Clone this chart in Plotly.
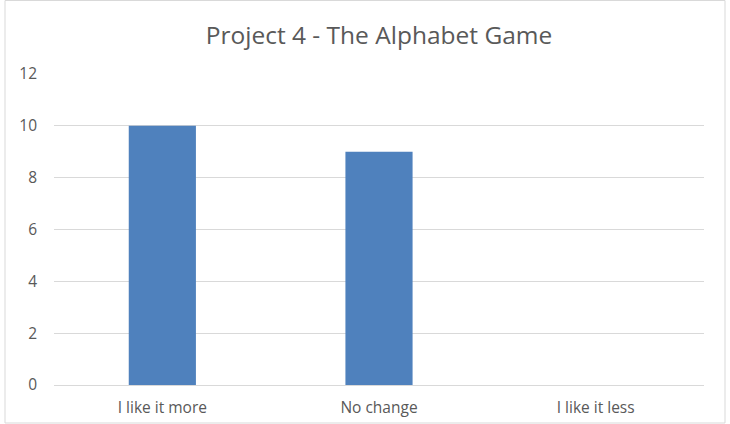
import plotly.graph_objects as go

categories = ["I like it more", "No change", "I like it less"]
values = [10, 9, 0]
y_ticks = [0, 2, 4, 6, 8, 10, 12]
title_text = "Project 4 - The Alphabet Game"

W, H = 730, 424
L, R, T, B = 54, 26, 74, 39
pw, ph = W - L - R, H - T - B

fig = go.Figure(go.Bar(
    x=categories, y=values,
    marker=dict(color="#4F81BD", line=dict(width=0)),
))

def px_to_paper_x(px):
    return (px - L) / pw

def px_to_paper_y(py):
    return (H - B - py) / ph

fig.update_layout(
    width=W, height=H,
    margin=dict(l=L, r=R, t=T, b=B, pad=0),
    paper_bgcolor="white", plot_bgcolor="white",
    bargap=0.69,
    showlegend=False,
    font=dict(family="Open Sans, Liberation Sans, sans-serif", color="#595959"),
    title=dict(text=title_text, x=0.5, xref="paper", xanchor="center",
               y=1 - 35 / H, yref="container", yanchor="middle",
               font=dict(size=24.5, color="#595959")),
    xaxis=dict(showgrid=False, showline=False, zeroline=False, ticks="",
               ticklabelstandoff=11, automargin=False,
               tickfont=dict(size=15.5, color="#595959")),
    yaxis=dict(range=[0, 12], tickvals=y_ticks, showgrid=True,
               gridcolor="#D9D9D9", gridwidth=1, zeroline=True,
               zerolinecolor="#D9D9D9", zerolinewidth=1, showline=False,
               ticks="", ticklabelstandoff=16, automargin=False,
               tickfont=dict(size=15.5, color="#595959")),
    shapes=[dict(type="rect", xref="paper", yref="paper",
                 x0=px_to_paper_x(5), x1=px_to_paper_x(725),
                 y0=px_to_paper_y(423), y1=px_to_paper_y(0.5),
                 line=dict(color="#D9D9D9", width=1), fillcolor="rgba(0,0,0,0)",
                 layer="below")],
)

fig.write_html("out.html")
